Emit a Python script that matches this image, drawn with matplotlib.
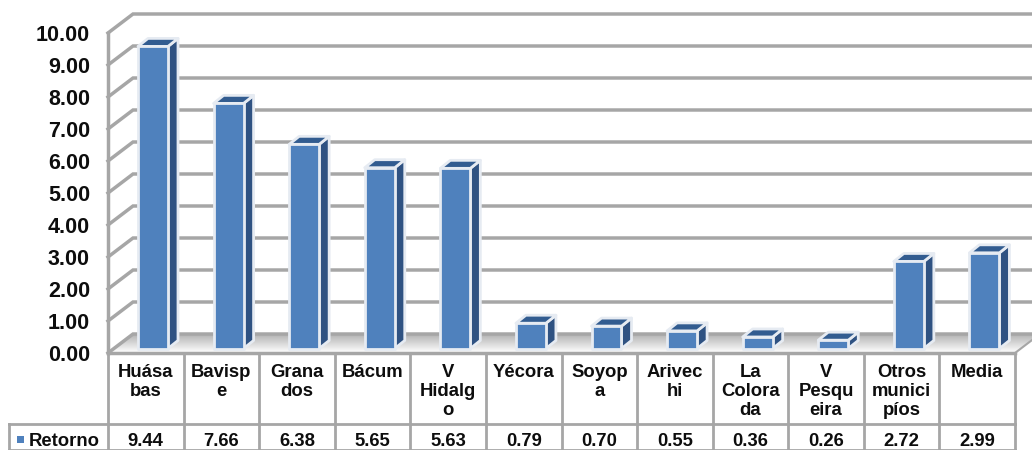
import matplotlib
matplotlib.use("Agg")
import matplotlib.pyplot as plt
from matplotlib.patches import Polygon
import numpy as np

categories = ["Huása\nbas", "Bavisp\ne", "Grana\ndos", "Bácum", "V\nHidalg\no", "Yécora",
              "Soyop\na", "Arivec\nhi", "La\nColora\nda", "V\nPesqu\neira", "Otros\nmunici\npíos", "Media"]
retorno = [9.44, 7.66, 6.38, 5.65, 5.63, 0.79, 0.70, 0.55, 0.36, 0.26, 2.72, 2.99]
value_labels = ["9.44", "7.66", "6.38", "5.65", "5.63", "0.79", "0.70", "0.55", "0.36", "0.26", "2.72", "2.99"]
y_ticks = [0, 1, 2, 3, 4, 5, 6, 7, 8, 9, 10]
series_name = "Retorno"

plt.rcParams['font.family'] = ['Liberation Sans', 'DejaVu Sans']

W, H = 1032, 450
LEFT, RIGHT, FLOOR, TOP = 108, 1015, 353, 33
COL = (RIGHT - LEFT) / 12
UNIT = (FLOOR - TOP) / 10

GRID = '#a6a6a6'
TXT = '#0d0d0d'

fig = plt.figure(figsize=(W / 100, H / 100), dpi=100)

# pixel overlay behind the bars: floor gradient, table
bg = fig.add_axes([0, 0, 1, 1], zorder=0)
bg.set_xlim(0, W)
bg.set_ylim(H, 0)
bg.axis('off')

ax = fig.add_axes([LEFT / W, 1 - FLOOR / H, (RIGHT - LEFT) / W, (FLOOR - TOP) / H], zorder=1)
ax.set_xlim(0, 12)
ax.set_ylim(0, 10)
ax.axis('off')
ax.patch.set_alpha(0)

# wall depth in data units
wall_dx = 25 / COL
wall_dy = 19 / UNIT
# bar geometry in data units
bar_left = 30 / COL
bar_w = 30 / COL
bar_dx = 10 / COL
bar_dy = 8 / UNIT
bar_base = 4.5 / UNIT

# floor
floor_poly = Polygon([(LEFT, FLOOR), (RIGHT, FLOOR), (RIGHT + 25, FLOOR - 19), (LEFT + 25, FLOOR - 19)],
                     closed=True, fc='none', ec='none', transform=bg.transData)
bg.add_patch(floor_poly)
grad = np.linspace(0.70, 1.0, 30).reshape(-1, 1)
im = bg.imshow(grad, cmap='gray', vmin=0, vmax=1, aspect='auto',
               extent=[LEFT, RIGHT + 25, FLOOR, FLOOR - 19], zorder=1)
im.set_clip_path(floor_poly)
bg.set_xlim(0, W)
bg.set_ylim(H, 0)

# gridlines on back and left wall
for t in y_ticks:
    ax.plot([0, wall_dx, 12.6], [t, t + wall_dy, t + wall_dy], color=GRID, lw=2.5,
            clip_on=False, zorder=1, solid_joinstyle='miter')
    ax.text(-18 / COL, t - 2.5 / UNIT, "%.2f" % t, ha='right', va='center', fontsize=15.5, fontweight='bold',
            color=TXT, clip_on=False)
ax.plot([0, 0], [0, 10], color=GRID, lw=2.5, clip_on=False, zorder=2)
ax.plot([0, 12], [0, 0], color=GRID, lw=2.5, clip_on=False, zorder=2)
ax.plot([12, 12 + wall_dx], [0, wall_dy], color=GRID, lw=1.5, clip_on=False, zorder=2)

# bars
for i, v in enumerate(retorno):
    x0 = i + bar_left
    x1 = x0 + bar_w
    y0 = bar_base
    y1 = y0 + v
    edge = dict(ec='#e6ebf2', lw=2.0, joinstyle='round', clip_on=False, zorder=5)
    ax.add_patch(Polygon([(x1, y0), (x1 + bar_dx, y0 + bar_dy), (x1 + bar_dx, y1 + bar_dy), (x1, y1)],
                         fc='#2f5282', **edge))
    ax.add_patch(Polygon([(x0, y1), (x1, y1), (x1 + bar_dx, y1 + bar_dy), (x0 + bar_dx, y1 + bar_dy)],
                         fc='#325c90', **edge))
    ax.add_patch(Polygon([(x0, y0), (x1, y0), (x1, y1), (x0, y1)], fc='#4f81bd', **edge))

# data table
ROW1, ROW2, LEG = 424, 452, 9
edges_x = [LEFT + COL * i for i in range(13)]
for xe in edges_x:
    bg.plot([xe, xe], [FLOOR, ROW2], color=GRID, lw=2, zorder=2)
bg.plot([LEG, RIGHT], [ROW1, ROW1], color=GRID, lw=2, zorder=2)
bg.plot([LEG, LEG], [ROW1, ROW2], color=GRID, lw=2, zorder=2)
bg.plot([LEG, RIGHT], [449.5, 449.5], color=GRID, lw=2, zorder=2)

for i, (c, s) in enumerate(zip(categories, value_labels)):
    xc = LEFT + COL * (i + 0.5)
    bg.text(xc, 364, c, ha='center', va='top', fontsize=13.3, fontweight='bold', color=TXT,
            linespacing=1.17)
    bg.text(xc, 441, s, ha='center', va='center', fontsize=13.3, fontweight='bold', color=TXT)

bg.add_patch(plt.Rectangle((17, 436), 7, 7, fc='#4f81bd', ec='none', zorder=3))
bg.text(29, 441, series_name, ha='left', va='center', fontsize=13.3, fontweight='bold', color=TXT)

plt.savefig("out.png", dpi=100)
